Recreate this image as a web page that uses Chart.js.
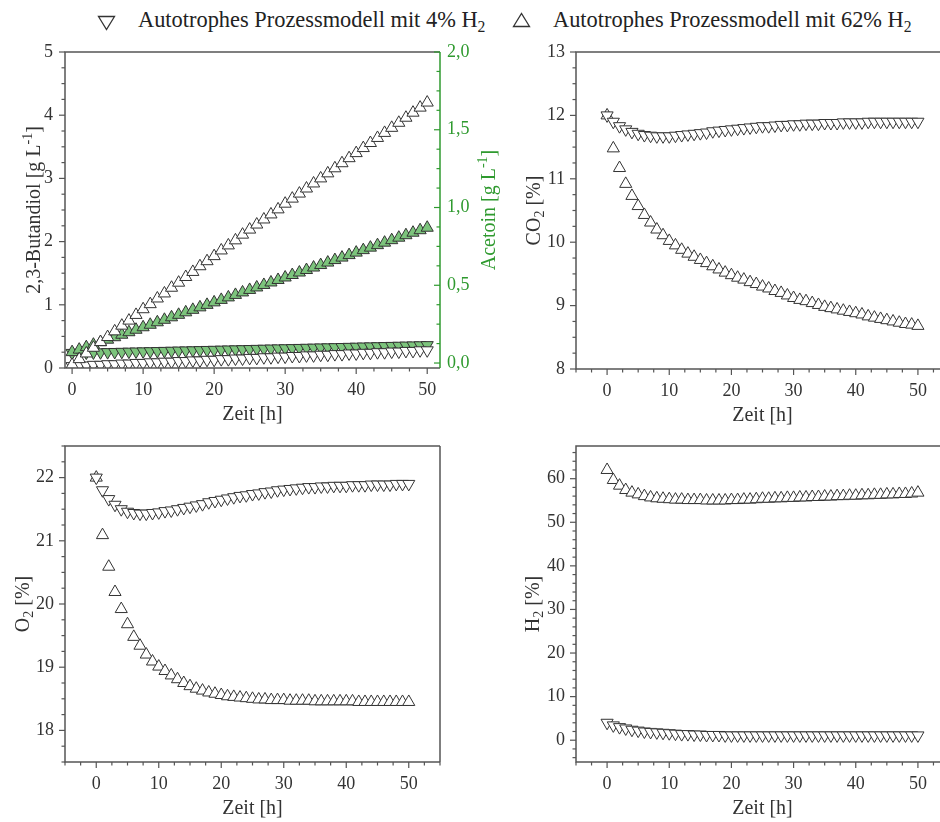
<!DOCTYPE html>
<html lang="de">
<head>
<meta charset="utf-8">
<title>Autotrophes Prozessmodell</title>
<script src="https://cdn.jsdelivr.net/npm/chart.js@4.4.1/dist/chart.umd.min.js"></script>
<style>
  html, body { margin: 0; padding: 0; background: #fff; }
  body { position: relative; width: 940px; height: 822px; overflow: hidden;
         font-family: 'Liberation Serif', 'Times New Roman', serif; color: #222; }
  canvas { position: absolute; }
  .leg { position: absolute; font-size: 22.4px; line-height: 23px; white-space: nowrap; }
  .leg sub { font-size: 0.7em; line-height: 0; vertical-align: -0.3em; }
  .mark { position: absolute; }
</style>
</head>
<body>

<svg class="mark" style="left:97px;top:15px" width="19" height="16"><polygon points="1.5,1.5 17.5,1.5 9.5,14.5" fill="none" stroke="#333" stroke-width="1.3"/></svg>
<div class="leg" style="left:138px;top:8px">Autotrophes Prozessmodell mit 4% H<sub>2</sub></div>
<svg class="mark" style="left:512px;top:12px" width="19" height="16"><polygon points="1.5,14.5 17.5,14.5 9.5,1.5" fill="none" stroke="#333" stroke-width="1.3"/></svg>
<div class="leg" style="left:553px;top:8px">Autotrophes Prozessmodell mit 62% H<sub>2</sub></div>

<canvas id="cBdo" width="520" height="432" style="left:0;top:0"></canvas>
<canvas id="cCo2" width="470" height="433" style="left:490px;top:0"></canvas>
<canvas id="cO2" width="520" height="422" style="left:0;top:400px"></canvas>
<canvas id="cH2" width="470" height="422" style="left:490px;top:400px"></canvas>

<script>
// Zeitachse [h]
const hours = [0,1,2,3,4,5,6,7,8,9,10,11,12,13,14,15,16,17,18,19,20,21,22,23,24,25,
  26,27,28,29,30,31,32,33,34,35,36,37,38,39,40,41,42,43,44,45,46,47,48,49,50];

// 2,3-Butandiol [g/L]
const bdo4 = [0.03,0.04,0.04,0.05,0.05,0.06,0.06,0.07,0.07,0.08,0.08,0.09,0.09,0.10,0.10,0.11,0.11,
  0.12,0.12,0.13,0.13,0.14,0.14,0.15,0.15,0.16,0.16,0.17,0.17,0.18,0.18,0.19,0.19,0.20,0.20,0.21,
  0.21,0.22,0.22,0.23,0.23,0.24,0.24,0.25,0.25,0.26,0.26,0.27,0.27,0.28,0.28];
const bdo62 = [0.05,0.14,0.23,0.32,0.41,0.49,0.58,0.67,0.75,0.84,0.93,1.01,1.10,1.18,1.27,1.35,1.44,
  1.52,1.61,1.69,1.77,1.86,1.94,2.02,2.11,2.19,2.27,2.35,2.43,2.51,2.60,2.68,2.76,2.84,2.92,3.00,
  3.08,3.16,3.24,3.32,3.40,3.48,3.56,3.64,3.72,3.80,3.88,3.96,4.04,4.12,4.20];

// Acetoin [g/L]
const acetoin4 = [0.065,0.066,0.067,0.068,0.069,0.070,0.071,0.072,0.073,0.074,0.075,0.076,0.077,
  0.078,0.079,0.080,0.081,0.082,0.083,0.084,0.085,0.086,0.087,0.088,0.089,0.090,0.091,0.092,0.093,
  0.094,0.095,0.096,0.097,0.098,0.099,0.100,0.101,0.102,0.103,0.104,0.105,0.106,0.107,0.108,0.109,
  0.110,0.111,0.112,0.113,0.114,0.115];
const acetoin62 = [0.070,0.086,0.102,0.118,0.134,0.150,0.166,0.182,0.198,0.214,0.230,0.246,0.262,
  0.278,0.294,0.310,0.326,0.342,0.358,0.374,0.390,0.406,0.422,0.438,0.454,0.470,0.486,0.502,0.518,
  0.534,0.550,0.566,0.582,0.598,0.614,0.630,0.646,0.662,0.678,0.694,0.710,0.726,0.742,0.758,0.774,
  0.790,0.806,0.822,0.838,0.854,0.870];

// CO2 [%]
const co2_4 = [12.0,11.9,11.83,11.78,11.74,11.71,11.69,11.68,11.67,11.67,11.67,11.68,11.69,11.70,
  11.71,11.72,11.73,11.75,11.76,11.77,11.78,11.79,11.80,11.81,11.82,11.83,11.83,11.84,11.85,11.85,
  11.86,11.86,11.87,11.87,11.87,11.88,11.88,11.88,11.89,11.89,11.89,11.89,11.90,11.90,11.90,11.90,
  11.90,11.90,11.90,11.90,11.90];
const co2_62 = [12.0,11.48,11.17,10.92,10.73,10.57,10.43,10.31,10.20,10.11,10.02,9.95,9.88,9.82,
  9.77,9.72,9.67,9.62,9.57,9.52,9.48,9.44,9.41,9.37,9.34,9.30,9.27,9.23,9.20,9.16,9.12,9.09,9.07,
  9.04,9.01,8.98,8.96,8.94,8.92,8.90,8.88,8.86,8.83,8.81,8.79,8.77,8.75,8.73,8.71,8.70,8.68];

// O2 [%]
const o2_4 = [22.0,21.8,21.66,21.57,21.5,21.46,21.44,21.43,21.43,21.44,21.45,21.47,21.48,21.5,21.52,
  21.54,21.56,21.58,21.61,21.63,21.65,21.67,21.69,21.71,21.72,21.74,21.75,21.77,21.78,21.8,21.81,
  21.82,21.83,21.84,21.85,21.85,21.86,21.86,21.87,21.87,21.87,21.88,21.88,21.88,21.89,21.89,21.89,
  21.89,21.9,21.9,21.9];
const o2_62 = [22.0,21.09,20.59,20.19,19.92,19.68,19.48,19.34,19.2,19.09,19.01,18.94,18.87,18.81,
  18.75,18.7,18.66,18.63,18.6,18.58,18.56,18.54,18.53,18.52,18.51,18.5,18.49,18.49,18.48,18.48,
  18.48,18.47,18.47,18.47,18.47,18.46,18.46,18.46,18.46,18.46,18.46,18.46,18.45,18.45,18.45,18.45,
  18.45,18.45,18.45,18.45,18.45];

// H2 [%]
const h2_4 = [4.0,3.4,3.0,2.7,2.4,2.2,2.0,1.9,1.8,1.7,1.6,1.5,1.4,1.4,1.3,1.3,1.2,1.2,1.2,1.1,1.1,
  1.1,1.1,1.1,1.1,1.1,1.1,1.1,1.1,1.1,1.1,1.1,1.1,1.1,1.1,1.1,1.1,1.1,1.1,1.1,1.1,1.1,1.1,1.1,1.1,
  1.1,1.1,1.1,1.1,1.1,1.1];
const h2_62 = [62.0,59.7,58.4,57.4,56.8,56.4,56.0,55.7,55.5,55.4,55.3,55.2,55.2,55.1,55.1,55.1,55.0,
  55.0,55.0,55.0,55.1,55.1,55.2,55.2,55.3,55.4,55.4,55.5,55.5,55.6,55.6,55.7,55.7,55.8,55.8,55.9,
  55.9,56.0,56.0,56.1,56.1,56.2,56.2,56.3,56.3,56.4,56.4,56.5,56.5,56.6,56.8];

// Achsenbeschriftungen
const xTicksTop = [0, 10, 20, 30, 40, 50];
const xTicks = [0, 10, 20, 30, 40, 50];
const bdoTicks = [0, 1, 2, 3, 4, 5];
const acetoinTicks = [0, 0.5, 1.0, 1.5, 2.0];
const co2Ticks = [8, 9, 10, 11, 12, 13];
const o2Ticks = [18, 19, 20, 21, 22];
const h2Ticks = [0, 10, 20, 30, 40, 50, 60];

const FONT = 'Liberation Serif';
const INK = '#333';
const GREEN = '#2f9a2f';

function series(vals, axis, up, fill) {
  return {
    data: hours.map((h, i) => ({ x: h, y: vals[i] })),
    yAxisID: axis,
    showLine: false,
    pointStyle: 'triangle',
    pointRotation: up ? 0 : 180,
    pointRadius: 7,
    pointBackgroundColor: fill,
    pointBorderColor: INK,
    pointBorderWidth: 1
  };
}

function axis(pos, min, max, ticks, size, pad, color, fmt) {
  const horizontal = pos === 'bottom';
  return {
    type: 'linear',
    position: pos,
    min: min,
    max: max,
    grid: { display: false, drawTicks: false },
    border: { display: false },
    afterBuildTicks: s => { s.ticks = ticks.map(v => ({ value: v })); },
    afterFit: s => { if (horizontal) s.height = size; else s.width = size; },
    ticks: {
      padding: pad,
      color: color || INK,
      font: { family: FONT, size: 18 },
      maxRotation: 0,
      callback: fmt || (v => String(v))
    }
  };
}

// text with sub-/superscript parts, centred on (cx, cy)
function richText(ctx, parts, cx, cy, angle, color, size) {
  ctx.save();
  ctx.translate(cx, cy);
  ctx.rotate(angle);
  ctx.fillStyle = color;
  ctx.textBaseline = 'alphabetic';
  ctx.textAlign = 'left';
  const fontOf = p => (p[1] ? size * 0.7 : size) + 'px "' + FONT + '"';
  let total = 0;
  const widths = parts.map(p => {
    ctx.font = fontOf(p);
    const w = ctx.measureText(p[0]).width;
    total += w;
    return w;
  });
  let x = -total / 2;
  parts.forEach((p, i) => {
    ctx.font = fontOf(p);
    const dy = p[1] === 'sub' ? size * 0.22 : p[1] === 'sup' ? -size * 0.38 : 0;
    ctx.fillText(p[0], x, size * 0.34 + dy);
    x += widths[i];
  });
  ctx.restore();
}

// frame, major/minor tick marks and axis titles
function decor(cfg) {
  return {
    id: 'decor',
    afterDraw(chart) {
      const ctx = chart.ctx, a = chart.chartArea;
      ctx.save();
      ctx.lineWidth = 1.5;
      ctx.strokeStyle = '#555';
      ctx.beginPath();
      ctx.moveTo(a.right, a.top); ctx.lineTo(a.left, a.top);
      ctx.lineTo(a.left, a.bottom); ctx.lineTo(a.right, a.bottom);
      ctx.stroke();
      ctx.strokeStyle = cfg.rightColor || '#555';
      ctx.beginPath();
      ctx.moveTo(a.right, a.top); ctx.lineTo(a.right, a.bottom);
      ctx.stroke();

      cfg.ticks.forEach(t => {
        const s = chart.scales[t.id];
        const majors = s.ticks.map(k => k.value);
        ctx.strokeStyle = t.color || '#555';
        ctx.lineWidth = 1.2;
        const mark = (v, len) => {
          const p = s.getPixelForValue(v);
          ctx.beginPath();
          if (t.id === 'x') { ctx.moveTo(p, a.bottom); ctx.lineTo(p, a.bottom + len); }
          else if (t.side === 'right') { ctx.moveTo(a.right, p); ctx.lineTo(a.right - len, p); }
          else { ctx.moveTo(a.left, p); ctx.lineTo(a.left - len, p); }
          ctx.stroke();
        };
        majors.forEach(v => mark(v, 6));
        const k0 = Math.ceil(s.min / t.minor - 1e-9);
        for (let k = k0; k * t.minor <= s.max + 1e-9; k++) {
          const v = k * t.minor;
          if (majors.some(m => Math.abs(m - v) < 1e-6)) continue;
          mark(v, 3.5);
        }
      });
      ctx.restore();

      const midY = (a.top + a.bottom) / 2, midX = (a.left + a.right) / 2;
      richText(ctx, [['Zeit [h]']], midX, a.bottom + 45, 0, INK, 20);
      richText(ctx, cfg.left, a.left - cfg.leftOff, midY, -Math.PI / 2, INK, 20);
      if (cfg.right) richText(ctx, cfg.right, a.right + 48, midY, -Math.PI / 2, GREEN, 20);
    }
  };
}

function makeChart(id, datasets, scales, padding, cfg) {
  return new Chart(document.getElementById(id), {
    type: 'scatter',
    data: { datasets: datasets },
    options: {
      responsive: false,
      animation: false,
      events: [],
      layout: { padding: padding },
      plugins: { legend: { display: false }, tooltip: { enabled: false } },
      scales: scales
    },
    plugins: [decor(cfg)]
  });
}

const comma = v => v.toFixed(1).replace('.', ',');

// 2,3-Butandiol und Acetoin
makeChart('cBdo', [
  series(bdo62, 'y', true, '#fff'),
  series(acetoin62, 'y2', true, '#7cc47c'),
  series(bdo4, 'y', false, '#fff'),
  series(acetoin4, 'y2', false, '#7cc47c')
], {
  x: axis('bottom', -1, 51.8, xTicksTop, 64, 11),
  y: axis('left', 0, 5, bdoTicks, 65, 12),
  y2: axis('right', -0.032, 2.0, acetoinTicks, 80, 7, GREEN, comma)
}, { top: 52, left: 0, right: 0, bottom: 0 }, {
  rightColor: GREEN,
  ticks: [{ id: 'x', minor: 2.5 }, { id: 'y', minor: 0.25 },
          { id: 'y2', minor: 0.125, side: 'right', color: GREEN }],
  left: [['2,3-Butandiol [g L'], ['-1', 'sup'], [']']],
  leftOff: 32,
  right: [['Acetoin [g L'], ['-1', 'sup'], [']']]
});

// CO2
makeChart('cCo2', [
  series(co2_4, 'y', false, '#fff'),
  series(co2_62, 'y', true, '#fff')
], {
  x: axis('bottom', -5, 55, xTicks, 64, 11),
  y: axis('left', 8, 13, co2Ticks, 86, 11)
}, { top: 52, left: 0, right: 11, bottom: 0 }, {
  ticks: [{ id: 'x', minor: 2.5 }, { id: 'y', minor: 0.25 }],
  left: [['CO'], ['2', 'sub'], [' [%]']],
  leftOff: 43
});

// O2
makeChart('cO2', [
  series(o2_4, 'y', false, '#fff'),
  series(o2_62, 'y', true, '#fff')
], {
  x: axis('bottom', -5, 55, xTicks, 60, 11),
  y: axis('left', 17.5, 22.5, o2Ticks, 65, 11)
}, { top: 46, left: 0, right: 80, bottom: 0 }, {
  ticks: [{ id: 'x', minor: 2.5 }, { id: 'y', minor: 0.25 }],
  left: [['O'], ['2', 'sub'], [' [%]']],
  leftOff: 43
});

// H2
makeChart('cH2', [
  series(h2_4, 'y', false, '#fff'),
  series(h2_62, 'y', true, '#fff')
], {
  x: axis('bottom', -5, 55, xTicks, 60, 11),
  y: axis('left', -5, 67.5, h2Ticks, 86, 11)
}, { top: 46, left: 0, right: 11, bottom: 0 }, {
  ticks: [{ id: 'x', minor: 2.5 }, { id: 'y', minor: 2 }],
  left: [['H'], ['2', 'sub'], [' [%]']],
  leftOff: 44
});
</script>
</body>
</html>
